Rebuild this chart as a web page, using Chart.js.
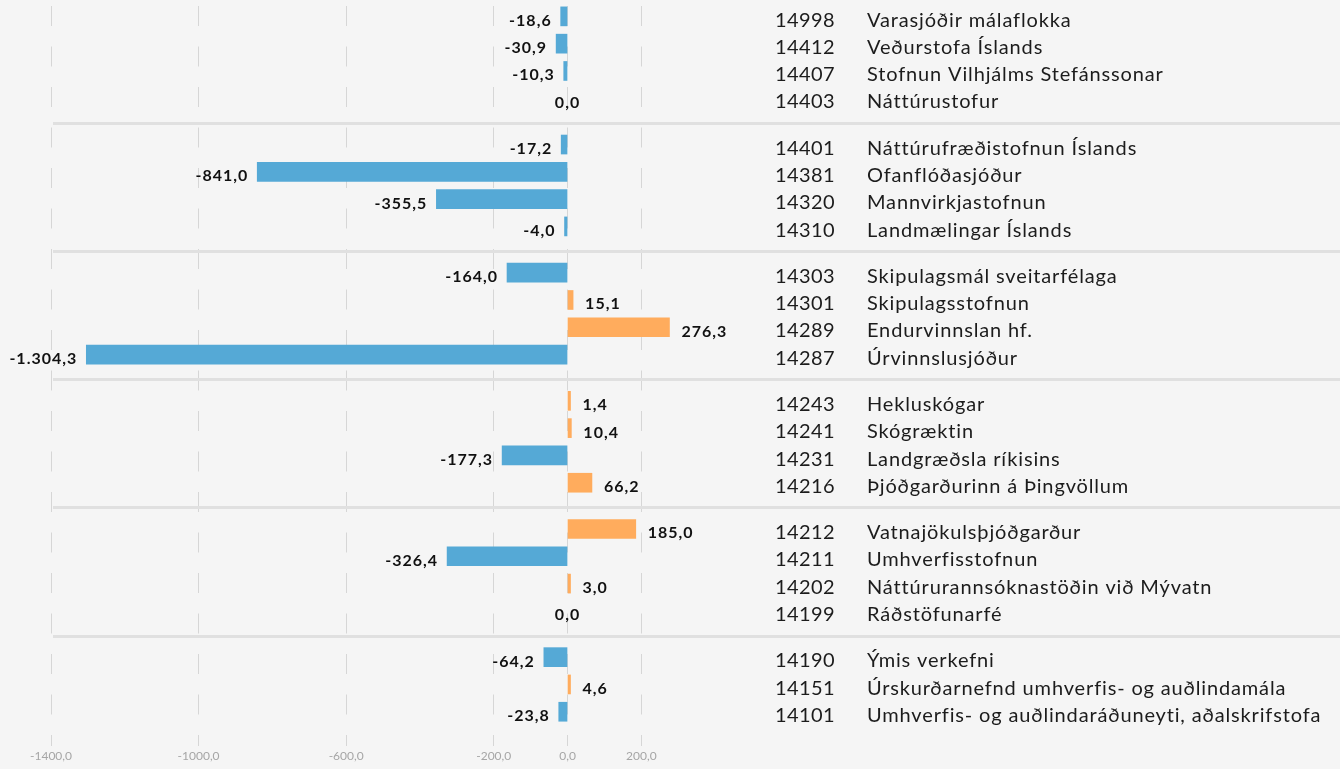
<!DOCTYPE html>
<html>
<head>
<meta charset="utf-8">
<script src="https://cdn.jsdelivr.net/npm/chart.js@4/dist/chart.umd.min.js"></script>
<style>
  html, body { margin: 0; padding: 0; background: #f5f5f5; }
  #wrap { position: relative; width: 1340px; height: 769px; }
</style>
</head>
<body>
<div id="wrap"><canvas id="c"></canvas></div>
<script>
// ---- data ----
const codes = [
  "14998", "14412", "14407", "14403",
  "14401", "14381", "14320", "14310",
  "14303", "14301", "14289", "14287",
  "14243", "14241", "14231", "14216",
  "14212", "14211", "14202", "14199",
  "14190", "14151", "14101"
];
const names = [
  "Varasjóðir málaflokka", "Veðurstofa Íslands", "Stofnun Vilhjálms Stefánssonar", "Náttúrustofur",
  "Náttúrufræðistofnun Íslands", "Ofanflóðasjóður", "Mannvirkjastofnun", "Landmælingar Íslands",
  "Skipulagsmál sveitarfélaga", "Skipulagsstofnun", "Endurvinnslan hf.", "Úrvinnslusjóður",
  "Hekluskógar", "Skógræktin", "Landgræðsla ríkisins", "Þjóðgarðurinn á Þingvöllum",
  "Vatnajökulsþjóðgarður", "Umhverfisstofnun", "Náttúrurannsóknastöðin við Mývatn", "Ráðstöfunarfé",
  "Ýmis verkefni", "Úrskurðarnefnd umhverfis- og auðlindamála", "Umhverfis- og auðlindaráðuneyti, aðalskrifstofa"
];
const values = [
  -18.6, -30.9, -10.3, 0.0,
  -17.2, -841.0, -355.5, -4.0,
  -164.0, 15.1, 276.3, -1304.3,
  1.4, 10.4, -177.3, 66.2,
  185.0, -326.4, 3.0, 0.0,
  -64.2, 4.6, -23.8
];
const groupSizes = [4, 4, 4, 4, 4, 3];
const xTicks = [-1400, -1000, -600, -200, 0, 200];

// ---- layout helpers ----
const GROUP_STEP = 4.695;
const positions = [];
const groupStart = [];
const groupEnd = [];
groupSizes.forEach((n, g) => {
  groupStart.push(g * GROUP_STEP);
  for (let r = 0; r < n; r++) positions.push(g * GROUP_STEP + r);
  groupEnd.push(g * GROUP_STEP + n - 1);
});

const BLUE = '#55a9d6';
const ORANGE = '#ffac5d';
const fmtVal = v => v.toLocaleString('de-DE', { minimumFractionDigits: 1, maximumFractionDigits: 1 });
const fmtTick = v => v.toFixed(1).replace('.', ',');

const labelsPlugin = {
  id: 'labelsPlugin',
  beforeDatasetsDraw(chart) {
    const ctx = chart.ctx;
    const ys = chart.scales.y;
    ctx.save();
    ctx.strokeStyle = '#e0e0e0';
    ctx.lineWidth = 3;
    for (let g = 0; g < groupSizes.length - 1; g++) {
      const mid = (groupEnd[g] + groupStart[g + 1]) / 2 + 0.06;
      const py = Math.round(ys.getPixelForValue(mid)) + 0.5;
      ctx.beginPath();
      ctx.moveTo(53, py);
      ctx.lineTo(chart.width, py);
      ctx.stroke();
    }
    ctx.restore();
  },
  afterDatasetsDraw(chart) {
    const ctx = chart.ctx;
    const xs = chart.scales.x;
    const meta = chart.getDatasetMeta(0);
    const x0 = xs.getPixelForValue(0);
    ctx.save();
    meta.data.forEach((bar, i) => {
      const v = values[i];
      const y = bar.y;
      // value label
      ctx.font = 'bold 16px Lato';
      ctx.letterSpacing = '1px';
      ctx.fillStyle = '#111111';
      ctx.textBaseline = 'alphabetic';
      let x;
      if (v < 0) { ctx.textAlign = 'right'; x = bar.x - 9; }
      else if (v > 0) { ctx.textAlign = 'left'; x = bar.x + 12; }
      else { ctx.textAlign = 'center'; x = x0; }
      ctx.fillText(fmtVal(v), x, y + 9.5);
      // right side labels
      ctx.font = '20px Lato';
      ctx.fillStyle = '#1c1c1c';
      ctx.textAlign = 'left';
      ctx.letterSpacing = '0.4px';
      ctx.fillText(codes[i], 775, y + 10.2);
      ctx.letterSpacing = '0.85px';
      ctx.fillText(names[i], 867, y + 10.2);
    });
    ctx.restore();
  }
};

new Chart(document.getElementById('c'), {
  type: 'bar',
  data: {
    datasets: [{
      data: values.map((v, i) => ({ x: v, y: positions[i] })),
      backgroundColor: ctx => {
        const v = values[ctx.dataIndex];
        return v < 0 ? BLUE : (v > 0 ? ORANGE : 'rgba(0,0,0,0)');
      },
      borderWidth: 0,
      barThickness: 19,
      minBarLength: 3
    }]
  },
  options: {
    indexAxis: 'y',
    responsive: true,
    maintainAspectRatio: false,
    animation: false,
    layout: { padding: { left: 51, right: 588, top: 6, bottom: 6 } },
    plugins: { legend: { display: false }, tooltip: { enabled: false } },
    scales: {
      x: {
        type: 'linear',
        min: -1400,
        max: 500,
        afterBuildTicks: axis => { axis.ticks = xTicks.map(v => ({ value: v })); },
        afterFit: axis => { axis.height = 17; },
        grid: { color: '#d6d6d6', lineWidth: 1, drawTicks: false },
        border: { display: false, dash: [20, 20.5] },
        ticks: {
          color: '#a6a6a6',
          font: { family: 'Lato', size: 12 },
          padding: 3,
          maxRotation: 0,
          autoSkip: false,
          callback: v => fmtTick(v)
        }
      },
      y: {
        type: 'linear',
        reverse: true,
        offset: false,
        min: -0.38,
        max: 26.73,
        display: false
      }
    }
  },
  plugins: [labelsPlugin]
});
</script>
</body>
</html>
